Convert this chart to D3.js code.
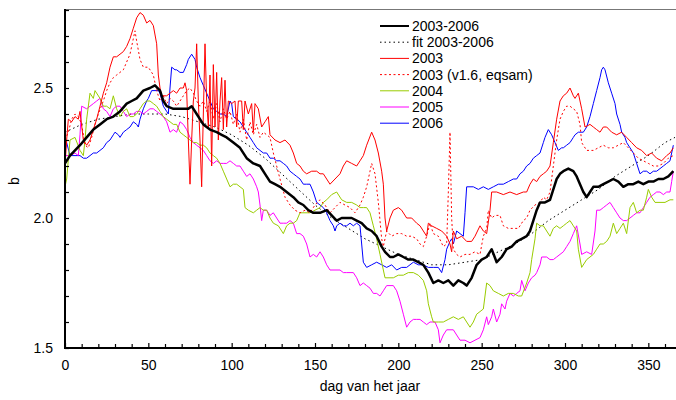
<!DOCTYPE html>
<html>
<head>
<meta charset="utf-8">
<script src="https://cdn.jsdelivr.net/npm/d3@7"></script>
<style>
  body { margin: 0; background: #fff; }
  svg { display: block; font-family: "Liberation Sans", Arial, sans-serif; }
</style>
</head>
<body>
<svg id="chart" width="676" height="400"></svg>
<script>
// data: [dag, b]
const avg = [[0,2.21],[3,2.24],[6,2.26],[9,2.28],[13,2.31],[17,2.34],[21,2.36],[25,2.38],[29,2.39],[33,2.41],[37,2.44],[40,2.45],[43,2.46],[47,2.49],[51,2.5],[54,2.51],[57,2.49],[59,2.45],[61,2.43],[65,2.42],[70,2.42],[74,2.42],[76,2.43],[79,2.4],[83,2.36],[87,2.34],[91,2.33],[94,2.32],[97,2.31],[101,2.29],[105,2.27],[109,2.23],[113,2.21],[117,2.2],[120,2.17],[123,2.14],[126,2.13],[129,2.12],[133,2.1],[137,2.08],[140,2.06],[143,2.05],[146,2.03],[149,2.02],[153,2.02],[157,2.03],[160,2.01],[163,1.99],[166,2.0],[169,2.0],[172,2.0],[175,1.99],[178,1.98],[181,1.96],[184,1.95],[187,1.93],[190,1.89],[192,1.87],[195,1.85],[197,1.85],[200,1.86],[203,1.85],[206,1.84],[209,1.84],[212,1.83],[215,1.82],[218,1.79],[221,1.75],[224,1.76],[227,1.75],[230,1.76],[233,1.74],[236,1.76],[239,1.75],[241,1.74],[244,1.77],[247,1.82],[250,1.84],[253,1.85],[256,1.88],[259,1.83],[262,1.85],[265,1.88],[268,1.89],[271,1.91],[274,1.92],[277,1.93],[279,1.95],[281,1.99],[283,2.03],[285,2.06],[288,2.06],[291,2.07],[293,2.11],[295,2.15],[297,2.17],[299,2.18],[302,2.19],[305,2.18],[307,2.16],[309,2.13],[311,2.1],[313,2.08],[315,2.1],[317,2.12],[320,2.12],[323,2.13],[326,2.14],[329,2.15],[332,2.14],[335,2.12],[338,2.13],[341,2.13],[344,2.14],[347,2.13],[350,2.14],[353,2.14],[356,2.15],[359,2.15],[362,2.16],[365,2.18]];

const fit = [[0,2.33],[10,2.36],[20,2.38],[30,2.39],[40,2.4],[50,2.4],[60,2.4],[70,2.39],[80,2.37],[90,2.35],[100,2.32],[110,2.28],[120,2.23],[130,2.17],[140,2.11],[150,2.05],[160,2.0],[170,1.96],[180,1.92],[190,1.89],[200,1.86],[210,1.84],[220,1.82],[230,1.82],[240,1.83],[250,1.84],[260,1.87],[270,1.9],[280,1.94],[290,1.99],[300,2.03],[310,2.07],[320,2.11],[330,2.16],[340,2.2],[350,2.24],[360,2.29],[366,2.31]];

const y2003 = [[0,2.2],[1,2.3],[2,2.38],[4,2.37],[6,2.39],[8,2.38],[9,2.41],[11,2.3],[13,2.28],[15,2.3],[17,2.34],[19,2.38],[21,2.43],[23,2.48],[25,2.52],[27,2.58],[29,2.62],[31,2.62],[33,2.63],[35,2.64],[37,2.66],[39,2.69],[41,2.73],[43,2.77],[45,2.79],[47,2.78],[49,2.75],[51,2.76],[53,2.74],[55,2.67],[56,2.55],[57,2.5],[58,2.47],[61,2.47],[63,2.48],[65,2.49],[67,2.48],[69,2.5],[71,2.5],[72,2.52],[73,2.49],[74,2.3],[75,2.13],[76,2.3],[77,2.45],[78,2.5],[79,2.67],[80,2.45],[81,2.3],[82,2.12],[83,2.4],[84,2.67],[85,2.45],[86,2.35],[87,2.55],[88,2.2],[89,2.59],[90,2.35],[91,2.56],[92,2.3],[93,2.45],[94,2.54],[95,2.34],[96,2.53],[97,2.35],[98,2.45],[100,2.44],[102,2.45],[103,2.35],[104,2.45],[106,2.45],[107,2.34],[108,2.45],[110,2.4],[112,2.44],[113,2.33],[114,2.44],[116,2.42],[118,2.35],[120,2.37],[122,2.39],[123,2.32],[126,2.3],[129,2.29],[132,2.3],[135,2.28],[137,2.25],[139,2.21],[141,2.2],[143,2.18],[145,2.17],[148,2.18],[151,2.18],[153,2.17],[155,2.17],[157,2.15],[159,2.13],[162,2.15],[165,2.17],[167,2.2],[169,2.22],[172,2.21],[175,2.2],[177,2.22],[179,2.24],[181,2.28],[184,2.33],[186,2.3],[188,2.25],[190,2.18],[191,2.13],[192,2.0],[193,1.95],[195,2.0],[197,2.03],[200,2.04],[202,2.03],[205,2.0],[208,2.0],[211,1.98],[213,1.97],[215,1.95],[217,1.93],[218,1.98],[220,1.97],[223,1.96],[226,1.95],[229,1.93],[231,1.9],[232,1.87],[233,1.95],[235,1.92],[238,1.93],[241,1.91],[244,1.91],[246,1.93],[249,1.97],[251,1.95],[253,1.94],[255,2.03],[256,2.1],[259,2.1],[263,2.09],[267,2.1],[271,2.09],[275,2.1],[277,2.1],[279,2.13],[281,2.15],[283,2.14],[285,2.16],[287,2.17],[289,2.18],[291,2.2],[293,2.29],[295,2.38],[297,2.45],[299,2.47],[301,2.48],[303,2.5],[305,2.47],[306,2.46],[308,2.48],[310,2.42],[312,2.35],[315,2.36],[317,2.35],[319,2.34],[321,2.33],[323,2.35],[325,2.35],[328,2.33],[331,2.32],[334,2.33],[337,2.31],[340,2.29],[343,2.27],[346,2.26],[349,2.24],[352,2.25],[355,2.23],[358,2.22],[361,2.24],[363,2.25],[365,2.27]];

const y2003eqsam = [[0,2.3],[2,2.33],[4,2.38],[6,2.4],[8,2.39],[10,2.36],[12,2.28],[14,2.27],[16,2.31],[18,2.36],[20,2.4],[23,2.45],[25,2.49],[27,2.52],[29,2.54],[31,2.55],[33,2.56],[35,2.57],[37,2.6],[39,2.63],[41,2.69],[42,2.72],[43,2.68],[45,2.61],[47,2.58],[50,2.58],[53,2.55],[55,2.49],[57,2.45],[59,2.47],[61,2.44],[63,2.46],[65,2.45],[67,2.43],[69,2.45],[71,2.47],[73,2.49],[75,2.5],[77,2.48],[79,2.45],[81,2.43],[83,2.45],[85,2.41],[87,2.45],[89,2.38],[91,2.44],[93,2.37],[95,2.42],[97,2.38],[99,2.41],[101,2.36],[103,2.4],[105,2.33],[107,2.38],[109,2.3],[111,2.37],[113,2.32],[115,2.36],[117,2.31],[119,2.33],[121,2.32],[123,2.31],[125,2.25],[127,2.2],[129,2.15],[132,2.08],[135,2.05],[138,2.03],[141,2.02],[144,2.03],[147,2.02],[150,2.05],[153,2.07],[156,2.05],[159,2.02],[162,2.04],[165,2.06],[168,2.05],[171,2.04],[174,2.02],[177,2.05],[179,2.08],[181,2.12],[183,2.18],[184,2.21],[186,2.17],[188,2.06],[190,1.92],[191,1.89],[193,1.95],[196,1.93],[199,1.94],[202,1.94],[205,1.93],[208,1.93],[211,1.92],[213,1.9],[215,1.89],[217,1.93],[219,1.98],[221,1.94],[224,1.93],[227,1.89],[229,1.9],[230,2.1],[231,2.33],[232,2.0],[233,1.88],[235,1.86],[237,1.85],[240,1.86],[243,1.86],[246,1.87],[249,1.86],[251,1.93],[253,1.96],[254,2.03],[256,2.0],[258,2.01],[261,2.01],[263,1.97],[266,1.96],[269,1.96],[272,1.96],[275,1.99],[277,2.0],[279,2.03],[282,2.05],[285,2.06],[287,2.08],[289,2.07],[291,2.1],[293,2.2],[295,2.3],[297,2.38],[299,2.41],[301,2.43],[303,2.43],[305,2.42],[307,2.41],[309,2.36],[310,2.29],[313,2.26],[317,2.26],[320,2.27],[323,2.28],[326,2.27],[329,2.27],[332,2.28],[335,2.29],[338,2.27],[341,2.25],[344,2.23],[347,2.22],[350,2.21],[353,2.2],[356,2.2],[359,2.21],[362,2.23],[365,2.24]];

const y2004 = [[0,2.12],[1,2.15],[3,2.3],[6,2.31],[9,2.26],[11,2.24],[12,2.3],[13,2.38],[15,2.48],[17,2.46],[18,2.49],[21,2.46],[23,2.43],[25,2.43],[27,2.42],[29,2.47],[31,2.42],[33,2.39],[35,2.41],[37,2.42],[39,2.39],[41,2.39],[43,2.4],[45,2.42],[47,2.44],[49,2.45],[51,2.45],[53,2.44],[55,2.43],[57,2.41],[59,2.39],[61,2.38],[63,2.37],[65,2.36],[67,2.36],[69,2.33],[71,2.32],[73,2.31],[75,2.3],[77,2.29],[79,2.29],[81,2.28],[83,2.28],[85,2.27],[87,2.25],[89,2.24],[91,2.23],[93,2.21],[95,2.18],[97,2.15],[99,2.12],[101,2.13],[103,2.13],[105,2.12],[107,2.11],[108,2.04],[110,2.03],[113,2.02],[115,2.03],[117,2.04],[119,2.03],[121,2.03],[123,2.0],[125,1.98],[128,1.97],[131,1.94],[133,1.97],[135,1.98],[137,1.98],[139,1.99],[141,2.02],[144,2.02],[147,2.02],[150,2.03],[153,2.04],[155,2.06],[157,2.07],[160,2.09],[163,2.1],[166,2.07],[169,2.06],[172,2.06],[175,2.05],[177,2.04],[179,2.04],[181,2.04],[183,2.02],[185,1.97],[187,1.92],[189,1.86],[191,1.8],[192,1.77],[195,1.77],[197,1.77],[200,1.78],[203,1.78],[206,1.79],[209,1.79],[212,1.78],[215,1.76],[217,1.72],[218,1.67],[220,1.62],[221,1.6],[224,1.6],[227,1.6],[230,1.61],[233,1.62],[236,1.61],[239,1.62],[241,1.6],[243,1.58],[245,1.6],[247,1.63],[249,1.64],[251,1.65],[253,1.75],[255,1.74],[257,1.72],[260,1.71],[263,1.7],[266,1.71],[269,1.71],[272,1.7],[274,1.7],[277,1.75],[279,1.79],[280,1.84],[282,1.92],[283,1.98],[285,1.97],[287,1.97],[289,1.95],[291,1.93],[293,1.96],[295,1.97],[297,1.96],[299,1.97],[301,1.98],[303,1.99],[305,1.97],[307,1.95],[308,1.88],[310,1.81],[313,1.84],[315,1.85],[317,1.86],[319,1.88],[321,1.9],[323,1.9],[325,1.91],[327,1.93],[329,1.98],[331,1.94],[333,1.96],[335,1.98],[337,1.94],[339,2.04],[341,2.06],[343,2.02],[345,2.03],[347,2.03],[349,2.08],[350,2.11],[352,2.08],[354,2.06],[357,2.06],[360,2.06],[363,2.07],[365,2.07]];

const y2005 = [[0,2.24],[3,2.24],[6,2.25],[8,2.24],[9,2.32],[10,2.43],[13,2.42],[15,2.43],[17,2.44],[19,2.45],[21,2.46],[23,2.42],[25,2.41],[27,2.39],[29,2.42],[31,2.43],[33,2.43],[35,2.41],[37,2.39],[39,2.4],[41,2.4],[43,2.41],[45,2.41],[47,2.4],[49,2.41],[51,2.42],[53,2.42],[55,2.41],[57,2.4],[59,2.39],[61,2.37],[63,2.33],[65,2.34],[67,2.33],[69,2.37],[71,2.36],[73,2.34],[75,2.31],[77,2.29],[79,2.28],[81,2.27],[83,2.26],[85,2.24],[87,2.22],[89,2.21],[91,2.22],[93,2.21],[95,2.21],[97,2.21],[99,2.22],[101,2.21],[103,2.2],[105,2.2],[107,2.18],[109,2.16],[111,2.17],[113,2.15],[115,2.12],[116,2.1],[117,2.05],[118,1.99],[119,2.03],[121,2.03],[123,2.01],[125,2.02],[127,2.0],[129,1.98],[131,1.98],[133,1.98],[135,1.99],[137,1.98],[139,1.94],[141,1.94],[143,1.93],[145,1.9],[147,1.85],[149,1.86],[151,1.85],[153,1.87],[155,1.85],[157,1.82],[159,1.8],[162,1.8],[165,1.8],[167,1.79],[169,1.79],[171,1.79],[173,1.79],[175,1.77],[177,1.74],[179,1.75],[181,1.74],[183,1.73],[185,1.71],[187,1.71],[189,1.7],[191,1.72],[193,1.74],[195,1.74],[197,1.74],[199,1.72],[201,1.68],[203,1.63],[205,1.58],[207,1.6],[209,1.61],[211,1.61],[213,1.61],[215,1.6],[217,1.59],[219,1.6],[222,1.6],[224,1.57],[225,1.52],[227,1.55],[229,1.57],[231,1.57],[233,1.57],[235,1.55],[237,1.53],[240,1.53],[243,1.52],[246,1.53],[249,1.54],[251,1.57],[253,1.62],[254,1.59],[256,1.62],[257,1.65],[259,1.6],[261,1.63],[262,1.67],[264,1.65],[265,1.68],[267,1.71],[269,1.7],[271,1.71],[273,1.72],[274,1.76],[276,1.72],[278,1.75],[280,1.77],[282,1.78],[283,1.79],[285,1.82],[286,1.85],[289,1.85],[291,1.84],[293,1.84],[295,1.85],[297,1.86],[299,1.87],[301,1.89],[303,1.91],[305,1.94],[307,1.97],[309,1.9],[310,1.86],[313,1.87],[316,1.86],[318,1.95],[319,2.03],[321,2.03],[323,2.04],[325,2.05],[327,2.06],[329,2.04],[331,2.02],[333,2.0],[335,1.99],[337,1.99],[339,2.0],[341,2.01],[343,2.02],[345,2.02],[347,2.04],[349,2.06],[351,2.08],[353,2.09],[355,2.1],[357,2.1],[359,2.09],[361,2.1],[363,2.1],[364,2.14],[365,2.18]];

const y2006 = [[0,2.26],[1,2.29],[3,2.24],[6,2.24],[9,2.24],[11,2.23],[13,2.23],[15,2.24],[17,2.25],[19,2.25],[21,2.26],[23,2.27],[25,2.29],[27,2.3],[29,2.32],[30,2.33],[32,2.32],[33,2.31],[35,2.33],[37,2.34],[39,2.35],[41,2.37],[43,2.36],[44,2.35],[45,2.38],[47,2.42],[49,2.45],[50,2.46],[52,2.49],[54,2.49],[56,2.49],[57,2.48],[59,2.43],[61,2.41],[62,2.4],[63,2.5],[64,2.58],[66,2.57],[67,2.57],[69,2.56],[71,2.56],[73,2.59],[74,2.61],[76,2.63],[78,2.61],[79,2.58],[81,2.54],[83,2.51],[85,2.48],[87,2.45],[89,2.42],[91,2.41],[93,2.4],[95,2.4],[97,2.39],[99,2.45],[100,2.44],[101,2.39],[103,2.38],[105,2.37],[107,2.35],[109,2.33],[111,2.31],[113,2.29],[115,2.27],[117,2.26],[119,2.25],[121,2.25],[123,2.23],[125,2.23],[127,2.22],[129,2.22],[131,2.21],[133,2.2],[135,2.18],[137,2.17],[139,2.16],[141,2.15],[143,2.13],[145,2.13],[147,2.13],[149,2.1],[151,2.06],[153,2.05],[155,2.04],[157,2.02],[159,1.99],[161,1.97],[162,1.95],[163,1.97],[165,1.98],[167,1.97],[169,1.97],[171,1.98],[173,1.97],[175,1.98],[177,1.97],[178,1.9],[179,1.83],[181,1.81],[184,1.82],[187,1.83],[190,1.82],[193,1.81],[196,1.82],[199,1.8],[202,1.81],[205,1.81],[207,1.82],[209,1.83],[212,1.82],[215,1.82],[218,1.81],[221,1.81],[224,1.81],[226,1.79],[228,1.84],[229,1.88],[231,1.91],[232,1.92],[233,1.9],[235,1.95],[237,1.94],[239,1.93],[240,2.02],[241,2.12],[243,2.12],[245,2.12],[248,2.11],[251,2.12],[254,2.11],[257,2.12],[260,2.13],[263,2.13],[266,2.14],[269,2.15],[271,2.15],[273,2.17],[275,2.18],[277,2.2],[279,2.21],[281,2.23],[283,2.24],[285,2.25],[287,2.29],[288,2.31],[290,2.34],[292,2.32],[294,2.29],[296,2.26],[298,2.27],[299,2.27],[301,2.28],[303,2.29],[305,2.31],[306,2.32],[308,2.33],[311,2.33],[313,2.35],[315,2.39],[317,2.44],[319,2.49],[321,2.54],[322,2.57],[323,2.58],[324,2.57],[326,2.52],[328,2.48],[330,2.44],[331,2.4],[333,2.36],[334,2.33],[336,2.31],[337,2.29],[339,2.27],[341,2.25],[343,2.21],[345,2.17],[347,2.18],[349,2.18],[351,2.17],[353,2.18],[355,2.18],[357,2.19],[359,2.2],[361,2.21],[363,2.22],[364,2.25],[365,2.28]];

const xTicks = [0, 50, 100, 150, 200, 250, 300, 350];
const yTicks = [1.5, 2.0, 2.5];

const series = [
    {name: "2003-2006", data: avg, color: "#000000", width: 2.5, dash: null},
    {name: "fit 2003-2006", data: fit, color: "#000000", width: 1, dash: "1.5,3"},
    {name: "2003", data: y2003, color: "#ff0000", width: 1, dash: null},
    {name: "2003 (v1.6, eqsam)", data: y2003eqsam, color: "#ff0000", width: 1, dash: "2,2.5"},
    {name: "2004", data: y2004, color: "#99cc00", width: 1, dash: null},
    {name: "2005", data: y2005, color: "#ff00ff", width: 1, dash: null},
    {name: "2006", data: y2006, color: "#0000ff", width: 1, dash: null}
];

const svg = d3.select("#chart");
const plotLeft = 65, plotRight = 675, plotTop = 10, plotBottom = 348;
const fontSize = 14;

const x = d3.scaleLinear().domain([0, 366]).range([plotLeft, plotRight]);
const y = d3.scaleLinear().domain([1.5, 2.8]).range([plotBottom, plotTop]);

svg.append("clipPath").attr("id", "clip")
    .append("rect")
    .attr("x", plotLeft).attr("y", plotTop)
    .attr("width", plotRight - plotLeft + 1).attr("height", plotBottom - plotTop);

const line = d3.line()
    .x(d => x(d[0]))
    .y(d => y(d[1]));

// draw order: thin lines first, black mean on top
const drawOrder = [1, 6, 5, 4, 3, 2, 0];
const plot = svg.append("g").attr("clip-path", "url(#clip)");
drawOrder.forEach(i => {
    const s = series[i];
    plot.append("path")
        .datum(s.data)
        .attr("d", line)
        .attr("fill", "none")
        .attr("stroke", s.color)
        .attr("stroke-width", s.width)
        .attr("stroke-linejoin", "round")
        .attr("stroke-dasharray", s.dash);
});

// frame: grey top line
svg.append("line")
    .attr("x1", plotLeft).attr("x2", 676)
    .attr("y1", plotTop - 0.5).attr("y2", plotTop - 0.5)
    .attr("stroke", "#777").attr("stroke-width", 1);

// x axis, ticks pointing into the plot
const xAxis = d3.axisBottom(x)
    .tickValues(d3.range(0, 366, 10))
    .tickSize(-4)
    .tickFormat(d => xTicks.includes(d) ? d : "");
const gx = svg.append("g")
    .attr("transform", `translate(0,${plotBottom})`)
    .call(xAxis);
gx.select(".domain").attr("stroke", "#000").attr("stroke-width", 2)
    .attr("d", `M${plotLeft - 1},0H${676}`);
gx.selectAll(".tick line").attr("stroke-width", 1.2)
    .attr("y2", d => xTicks.includes(d) ? -5 : -4);
gx.selectAll(".tick text")
    .attr("y", 12)
    .attr("font-size", fontSize)
    .attr("font-family", "Liberation Sans, Arial, sans-serif")
    .attr("fill", "#000");

const yAxis = d3.axisLeft(y)
    .tickValues(d3.range(15, 29).map(v => v / 10))
    .tickSize(-4)
    .tickFormat(d => yTicks.some(t => Math.abs(t - d) < 1e-9) ? d3.format(".1f")(d) : "");
const gy = svg.append("g")
    .attr("transform", `translate(${plotLeft},0)`)
    .call(yAxis);
gy.select(".domain").attr("stroke", "#000").attr("stroke-width", 2)
    .attr("d", `M0,${plotBottom}V${plotTop - 1}`);
gy.selectAll(".tick line").attr("stroke-width", 1.2);
gy.selectAll(".tick text")
    .attr("x", -12)
    .attr("font-size", fontSize)
    .attr("font-family", "Liberation Sans, Arial, sans-serif")
    .attr("fill", "#000");

// axis titles
svg.append("text")
    .attr("x", 370).attr("y", 391)
    .attr("text-anchor", "middle")
    .attr("font-size", fontSize)
    .text("dag van het jaar");

svg.append("text")
    .attr("transform", "translate(19,181) rotate(-90)")
    .attr("text-anchor", "middle")
    .attr("font-size", fontSize)
    .text("b");

// legend
const legend = svg.append("g").attr("transform", "translate(380,26)");
series.forEach((s, i) => {
    const row = legend.append("g").attr("transform", `translate(0,${i * 16.2})`);
    row.append("line")
        .attr("x1", 0).attr("x2", 29)
        .attr("stroke", s.color)
        .attr("stroke-width", s.width > 1 ? 2 : 1)
        .attr("stroke-dasharray", s.dash);
    row.append("text")
        .attr("x", 32).attr("y", 5)
        .attr("font-size", fontSize)
        .text(s.name);
});
</script>
</body>
</html>
